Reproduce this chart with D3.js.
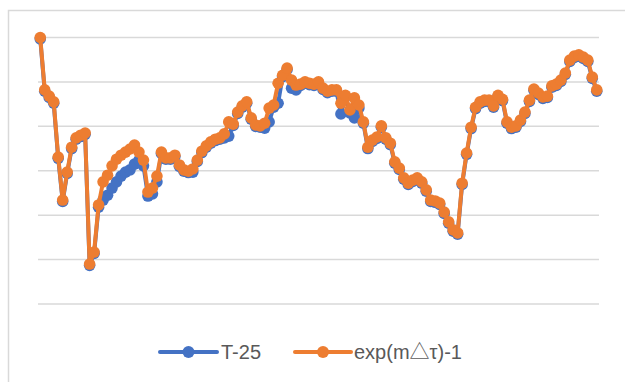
<!DOCTYPE html>
<html>
<head>
<meta charset="utf-8">
<script src="https://cdn.jsdelivr.net/npm/d3@7"></script>
<style>
  html, body { margin: 0; padding: 0; background: #ffffff; }
  svg { display: block; }
</style>
</head>
<body>
<svg id="chart" width="625" height="382"></svg>
<script>
// Series values, one per sample
const expSeries = [
  60.0, 48.2, 46.8, 45.5, 33.1, 23.4, 29.7, 35.3, 37.4, 38.0,
  38.5, 9.0, 11.7, 22.3, 27.5, 29.0, 31.1, 32.6, 33.5, 34.2,
  34.9, 35.8, 34.2, 32.4, 25.2, 26.1, 28.8, 34.2, 32.9, 32.9,
  33.5, 31.3, 30.2, 29.9, 30.4, 32.4, 34.4, 35.6, 36.5, 37.1,
  37.4, 38.3, 41.0, 40.5, 43.2, 44.6, 45.5, 41.9, 40.3, 40.1,
  40.7, 44.1, 44.8, 49.7, 51.5, 53.1, 50.4, 49.3, 49.5, 50.0,
  49.7, 49.5, 50.0, 48.6, 47.9, 48.2, 48.2, 45.2, 47.0, 43.7,
  46.4, 44.8, 41.0, 35.3, 36.9, 37.6, 40.1, 37.4, 36.2, 32.0,
  30.6, 28.4, 27.2, 27.9, 28.4, 27.5, 25.7, 23.4, 23.2, 22.7,
  20.7, 18.5, 16.7, 16.0, 27.2, 34.0, 39.8, 44.3, 45.5, 45.9,
  45.9, 44.6, 47.0, 46.1, 41.0, 39.8, 40.1, 41.4, 43.2, 45.9,
  48.4, 47.5, 46.6, 46.8, 49.1, 49.5, 50.4, 52.0, 54.9, 55.8,
  56.1, 55.6, 54.9, 51.1, 48.2
];

const tSeries = [
  59.7, 47.9, 46.5, 45.2, 32.8, 23.1, 29.4, 35.0, 37.1, 37.7,
  38.2, 8.7, 11.4, 21.8, 23.4, 24.5, 26.1, 27.5, 28.8, 29.7,
  30.2, 31.5, 32.4, 31.1, 24.3, 24.8, 27.5, 33.9, 32.6, 32.6,
  33.2, 31.0, 29.9, 29.6, 29.7, 32.1, 34.1, 35.3, 36.2, 36.8,
  37.1, 37.4, 37.8, 40.2, 42.9, 44.3, 45.2, 41.6, 40.0, 39.8,
  39.6, 41.0, 44.3, 45.2, 51.2, 52.8, 48.6, 48.2, 49.2, 49.7,
  49.4, 49.2, 49.7, 48.3, 47.6, 47.9, 47.9, 42.8, 46.7, 43.0,
  41.9, 44.1, 40.7, 35.0, 36.6, 37.3, 39.8, 37.1, 35.9, 31.7,
  30.3, 28.1, 26.9, 27.6, 28.1, 27.2, 25.4, 23.1, 22.9, 22.4,
  20.4, 18.2, 16.4, 15.7, 26.9, 33.7, 39.5, 44.0, 45.2, 45.6,
  45.6, 44.3, 46.7, 45.8, 40.7, 39.5, 39.8, 41.1, 42.9, 45.6,
  48.1, 47.2, 46.3, 46.5, 48.8, 49.2, 50.1, 51.7, 54.6, 55.5,
  55.8, 55.3, 54.6, 50.8, 47.9
];

const gridValues = [0, 10, 20, 30, 40, 50, 60];
const seriesNames = ["T-25", "exp(m\u25B3\u03C4)-1"];
const seriesColors = ["#4472C4", "#ED7D31"];

const svg = d3.select("#chart");
const W = 625, H = 382;
const plot = { left: 38, right: 599, top: 37.5, bottom: 304 };

// Chart frame
svg.append("path")
  .attr("d", `M8.5,${H} V10.5 H${W}`)
  .attr("fill", "none")
  .attr("stroke", "#d9d9d9")
  .attr("stroke-width", 1.5);

const idx = d3.range(expSeries.length);
const x = d3.scalePoint().domain(idx).range([plot.left, plot.right]).padding(0.5);
const y = d3.scaleLinear().domain([0, 60]).range([plot.bottom, plot.top]);

// Horizontal gridlines
svg.append("g")
  .selectAll("line")
  .data(gridValues)
  .join("line")
  .attr("x1", plot.left)
  .attr("x2", plot.right)
  .attr("y1", d => y(d))
  .attr("y2", d => y(d))
  .attr("stroke", "#d9d9d9")
  .attr("stroke-width", 1.5);

const line = d3.line()
  .x((d, i) => x(i))
  .y(d => y(d));

[tSeries, expSeries].forEach((vals, k) => {
  const g = svg.append("g");
  g.append("path")
    .datum(vals)
    .attr("d", line)
    .attr("fill", "none")
    .attr("stroke", seriesColors[k])
    .attr("stroke-width", 4)
    .attr("stroke-linejoin", "round")
    .attr("stroke-linecap", "round");
  g.selectAll("circle")
    .data(vals)
    .join("circle")
    .attr("cx", (d, i) => x(i))
    .attr("cy", d => y(d))
    .attr("r", 5.8)
    .attr("fill", seriesColors[k]);
});

// Legend
const legendY = 352;
const legendItems = [
  { x0: 160, x1: 217, text: 221 },
  { x0: 295, x1: 351, text: 354 }
];
legendItems.forEach((it, k) => {
  const g = svg.append("g");
  g.append("line")
    .attr("x1", it.x0).attr("x2", it.x1)
    .attr("y1", legendY).attr("y2", legendY)
    .attr("stroke", seriesColors[k])
    .attr("stroke-width", 4)
    .attr("stroke-linecap", "round");
  g.append("circle")
    .attr("cx", (it.x0 + it.x1) / 2)
    .attr("cy", legendY)
    .attr("r", 6)
    .attr("fill", seriesColors[k]);
  g.append("text")
    .attr("x", it.text)
    .attr("y", legendY + 7)
    .attr("font-family", "'Liberation Sans', 'Noto Sans CJK SC', sans-serif")
    .attr("font-size", 20)
    .attr("fill", "#595959")
    .text(seriesNames[k]);
});
</script>
</body>
</html>
